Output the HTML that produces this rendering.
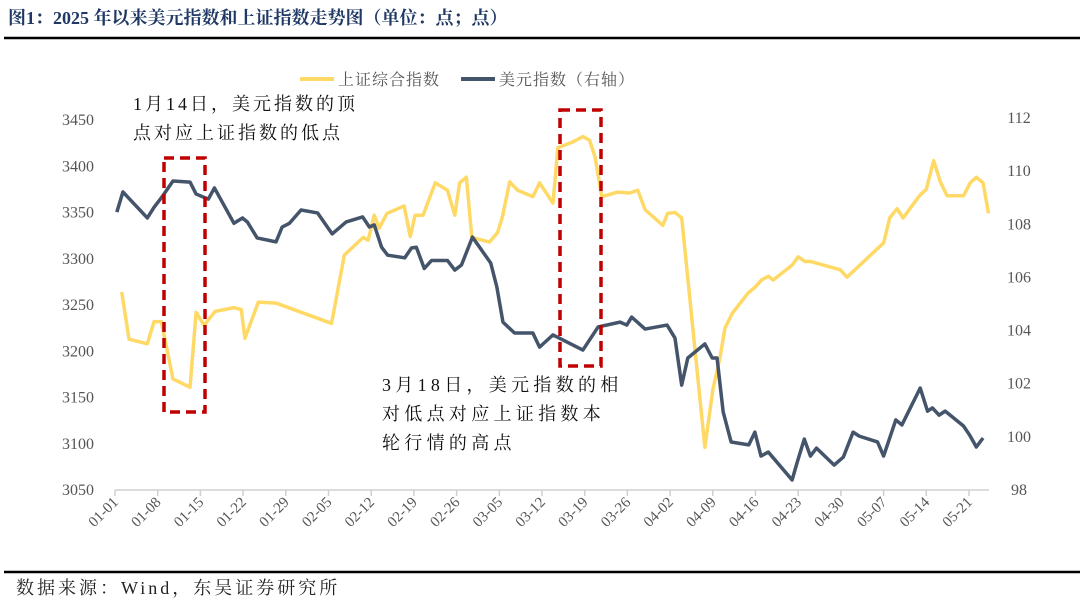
<!DOCTYPE html>
<html><head><meta charset="utf-8"><style>
body{margin:0;background:#fff;}
svg text{font-family:"Liberation Serif","Noto Serif CJK SC",serif;}
</style></head><body>
<svg width="1080" height="606" viewBox="0 0 1080 606" xmlns="http://www.w3.org/2000/svg">
<text x="8" y="24" font-size="18" font-weight="bold" fill="#1f3864">图1：2025 年以来美元指数和上证指数走势图（单位：点；点）</text>
<line x1="4" y1="38" x2="1080" y2="38" stroke="#000" stroke-width="2.5"/>
<line x1="4" y1="572" x2="1080" y2="572" stroke="#000" stroke-width="2.5"/>
<text x="16" y="594" font-size="18" letter-spacing="3" fill="#222">数据来源：Wind，东吴证券研究所</text>
<g id="axes"></g>
<g id="marks"></g>
<g>
<line x1="300" y1="79" x2="334" y2="79" stroke="#ffd966" stroke-width="4"/>
<text x="338" y="85" font-size="16" letter-spacing="1" fill="#555">上证综合指数</text>
<line x1="461" y1="79" x2="495" y2="79" stroke="#44546a" stroke-width="4"/>
<text x="499" y="85" font-size="16" letter-spacing="1" fill="#555">美元指数（右轴）</text>
</g>
<text x="133" y="110" font-size="18" letter-spacing="3" fill="#111">1月14日，美元指数的顶</text>
<text x="133" y="139" font-size="18" letter-spacing="3" fill="#111">点对应上证指数的低点</text>
<text x="382" y="391" font-size="18" letter-spacing="4.3" fill="#111">3月18日，美元指数的相</text>
<text x="382" y="420" font-size="18" letter-spacing="4.3" fill="#111">对低点对应上证指数本</text>
<text x="382" y="449" font-size="18" letter-spacing="4.3" fill="#111">轮行情的高点</text>
<rect x="164" y="158" width="41" height="254" fill="none" stroke="#c00000" stroke-width="3.5" stroke-dasharray="10,6"/>
<rect x="560" y="110" width="41" height="256" fill="none" stroke="#c00000" stroke-width="3.5" stroke-dasharray="10,6"/>
</svg>
<script>
const shDays=[1.1,2.3,5.3,6.4,7.6,9.5,12.3,13.3,14.6,16.4,19.5,20.7,21.3,23.5,26.4,35.5,37.6,40.7,41.5,42.5,43.3,44.6,47.4,48.4,49.2,50.5,52.5,54.5,55.7,56.5,57.6,58.5,61.4,62.7,63.5,64.7,66,68.5,69.6,71.8,72.6,75,76.7,77.8,78.7,79.8,82.4,84.4,85.7,86.9,89.8,90.6,91.8,92.9,96.7,98,99.2,100,101.2,103.8,104.9,106,107.1,107.9,111,112,113.1,114,118.9,120,126,127,128.2,129.2,132,133,134.2,135.3,136.4,139.1,140.2,141.2,142.3,143.2];
const shValues=[3263,3212,3207,3231,3231,3169,3160,3241,3227,3242,3246,3244,3213,3252,3251,3229,3303,3322,3319,3346,3332,3348,3356,3323,3346,3346,3381,3373,3346,3381,3387,3322,3317,3327,3344,3382,3373,3366,3381,3359,3419,3425,3431,3427,3409,3366,3371,3370,3373,3352,3335,3348,3349,3343,3095,3157,3193,3224,3240,3262,3268,3276,3280,3276,3292,3301,3296,3296,3287,3279,3316,3343,3353,3343,3368,3374,3405,3382,3367,3367,3381,3387,3381,3348];
const usdDays=[0.3,1.3,5.3,6.4,7.7,9.5,12.3,13.3,15.3,16.3,19.5,20.9,21.7,23.3,26.4,27.4,28.6,30.5,33.2,35.6,37.9,40.6,41.7,42.5,43.7,44.7,47.5,48.6,49.4,50.7,51.9,54.5,55.7,56.8,58.6,61.6,62.6,63.6,65.5,68.5,69.6,71.8,76.7,79.2,82.8,83.9,84.7,86.9,90.5,91.8,92.9,93.9,96.7,97.9,98.7,99.7,101,103.9,104.9,105.9,107.1,111,111.8,113,114,115,117.9,119.4,121,122,125,126,128,129,132,133.2,134,135.1,136.1,139.1,140.1,141.2,142.3];
const usdValues=[108.42,109.18,108.2,108.6,108.99,109.59,109.55,109.1,108.91,109.33,108.0,108.2,108.05,107.45,107.3,107.86,108.0,108.5,108.39,107.6,108.05,108.24,107.86,107.94,107.1,106.8,106.7,107.07,107.1,106.3,106.6,106.6,106.24,106.43,107.48,106.5,105.6,104.28,103.87,103.87,103.34,103.8,103.23,104.1,104.28,104.17,104.47,104.02,104.17,103.68,101.91,102.93,103.46,102.93,102.93,100.9,99.77,99.66,100.14,99.24,99.39,98.34,98.98,99.88,99.24,99.54,98.9,99.2,100.14,99.99,99.77,99.24,100.6,100.41,101.8,100.93,101.05,100.78,100.93,100.37,100.03,99.58,99.92];
const leftTicks=[3050,3100,3150,3200,3250,3300,3350,3400,3450];
const rightTicks=[98,100,102,104,106,108,110,112];
const xTickLabels=["01-01","01-08","01-15","01-22","01-29","02-05","02-12","02-19","02-26","03-05","03-12","03-19","03-26","04-02","04-09","04-16","04-23","04-30","05-07","05-14","05-21"];
const xTickDays=[0,7,14,21,28,35,42,49,56,63,70,77,84,91,98,105,112,119,126,133,140];

const NS="http://www.w3.org/2000/svg";
const xS=d=>115+d*6.1;
const yL=v=>489-(v-3050)*(370/400);
const yR=v=>489-(v-98)*(372/14);
function mk(tag,attrs,parent){const e=document.createElementNS(NS,tag);for(const k in attrs)e.setAttribute(k,attrs[k]);parent.appendChild(e);return e;}
const axes=document.getElementById('axes'),marks=document.getElementById('marks');
const ax=mk('line',{x1:115,y1:490,x2:989,y2:490,stroke:'#d0d0d0','stroke-width':1.5},axes);


xTickDays.forEach((d,i)=>{
  const t=mk('line',{x1:xS(d),y1:490,x2:xS(d),y2:496,stroke:'#d0d0d0','stroke-width':1.5},axes);
  
  
  const x=xS(d)+4,y=503;
  const lb=mk('text',{x:x,y:y,'font-size':15,fill:'#555','text-anchor':'end',transform:`rotate(-45 ${x} ${y})`},axes);
  lb.textContent=xTickLabels[i];
  
  
});
leftTicks.forEach(v=>{
  const lb=mk('text',{x:94,y:yL(v)+6,'font-size':16,fill:'#555','text-anchor':'end'},axes);
  lb.textContent=v;
  
  
});
rightTicks.forEach(v=>{
  const lb=mk('text',{x:1019,y:yR(v)+6,'font-size':16,fill:'#555','text-anchor':'middle'},axes);
  lb.textContent=v;
  
  
});
const sh=mk('polyline',{points:shDays.map((d,i)=>xS(d)+','+yL(shValues[i])).join(' '),fill:'none',stroke:'#ffd966','stroke-width':3.5,'stroke-linejoin':'round'},marks);


const us=mk('polyline',{points:usdDays.map((d,i)=>xS(d)+','+yR(usdValues[i])).join(' '),fill:'none',stroke:'#44546a','stroke-width':3.5,'stroke-linejoin':'round'},marks);


</script>
</body></html>
